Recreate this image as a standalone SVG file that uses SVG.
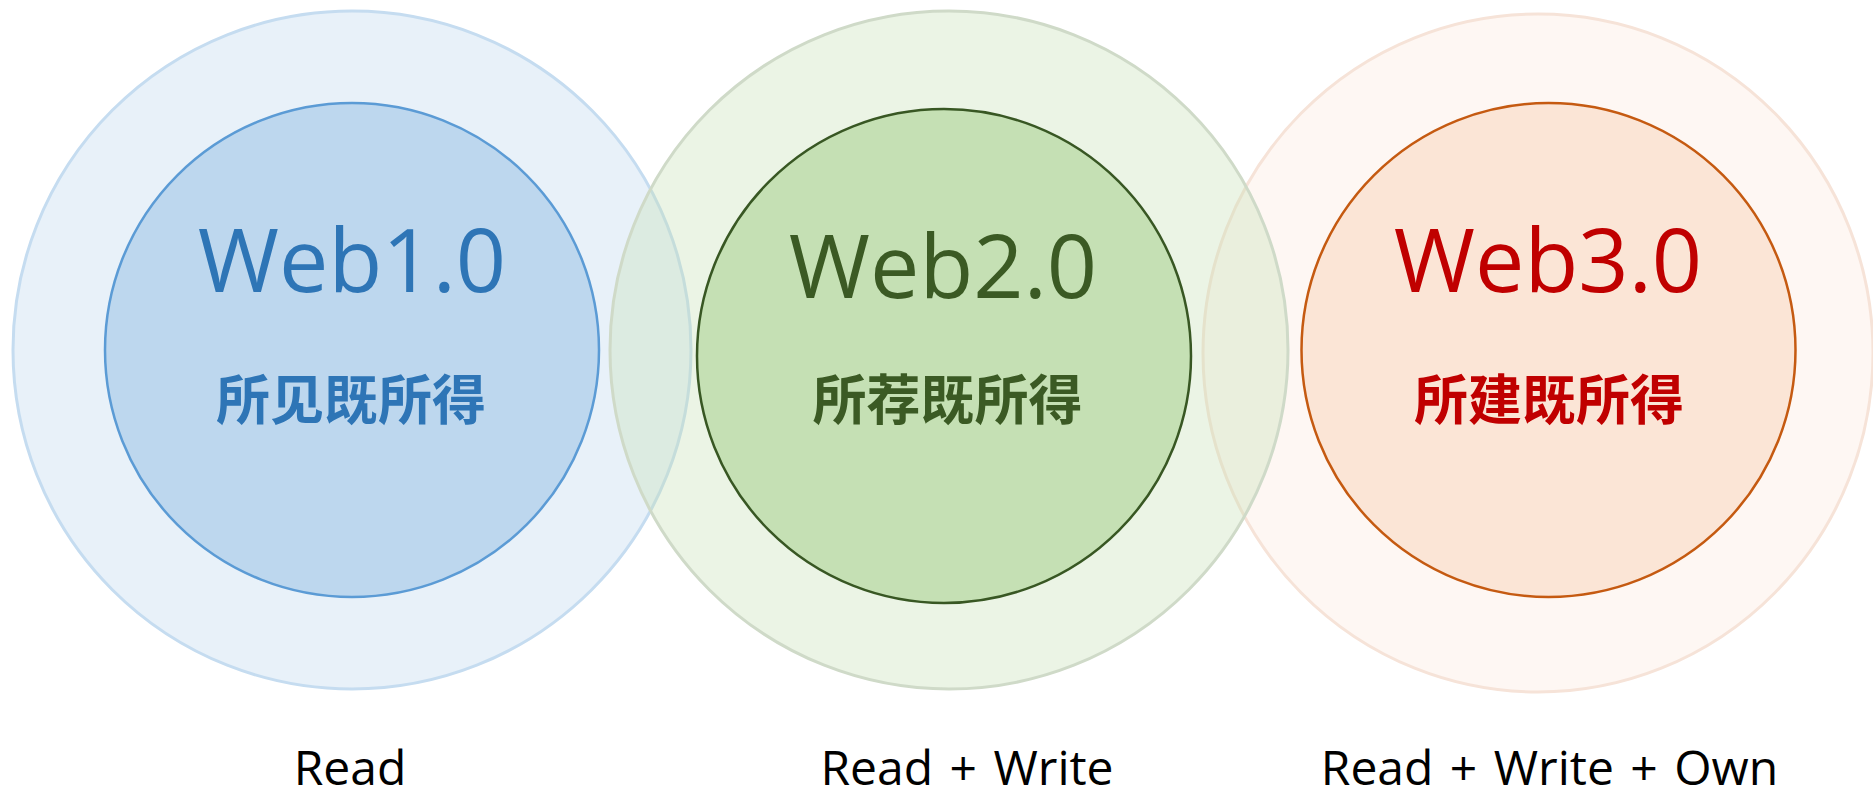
<svg xmlns="http://www.w3.org/2000/svg" width="1873" height="797" viewBox="0 0 1873 797">
<style>
.web{font-family:"Open Sans","Noto Sans",sans-serif;font-size:88px;text-anchor:middle}
.cn{font-family:"Noto Sans CJK SC",sans-serif;font-size:54px;font-weight:bold;text-anchor:middle}
.bot{font-family:"Open Sans","Noto Sans",sans-serif;font-size:48px;word-spacing:4px;text-anchor:middle;fill:#000}
</style>
<rect width="1873" height="797" fill="#ffffff"/>
<g id="web1">
<circle cx="352" cy="350" r="339" fill="#bdd7ee" fill-opacity="0.35" stroke="#c5dcf0" stroke-width="3"/>
<circle cx="352" cy="350" r="247" fill="#bdd7ee" stroke="#5b9bd5" stroke-width="2.5"/>
<text class="web" x="352" y="292" fill="#2e75b6">Web1.0</text>
<text class="cn" x="351" y="420" fill="#2e75b6">所见既所得</text>
</g>
<g id="web3">
<ellipse cx="1538" cy="353" rx="335" ry="339" fill="#fbe5d6" fill-opacity="0.3" stroke="#f6e3d8" stroke-width="3"/>
<circle cx="1548.5" cy="350" r="247" fill="#fbe5d6" stroke="#c55a11" stroke-width="2.5"/>
<text class="web" x="1548" y="292" fill="#c00000">Web3.0</text>
<text class="cn" x="1549" y="420" fill="#c00000">所建既所得</text>
</g>
<g id="web2">
<circle cx="949" cy="350" r="339" fill="#c5e0b4" fill-opacity="0.35" stroke="#cfdac8" stroke-width="3"/>
<circle cx="944" cy="356" r="247" fill="#c5e0b4" stroke="#385723" stroke-width="2.5"/>
<text class="web" x="943" y="298" fill="#3b5a24">Web2.0</text>
<text class="cn" x="947.5" y="420" fill="#3b5a24">所荐既所得</text>
</g>
<g id="labels">
<text class="bot" x="350" y="785">Read</text>
<text class="bot" x="967" y="785">Read + Write</text>
<text class="bot" x="1549.5" y="785">Read + Write + Own</text>
</g>
<g id="connectors"/>
</svg>
